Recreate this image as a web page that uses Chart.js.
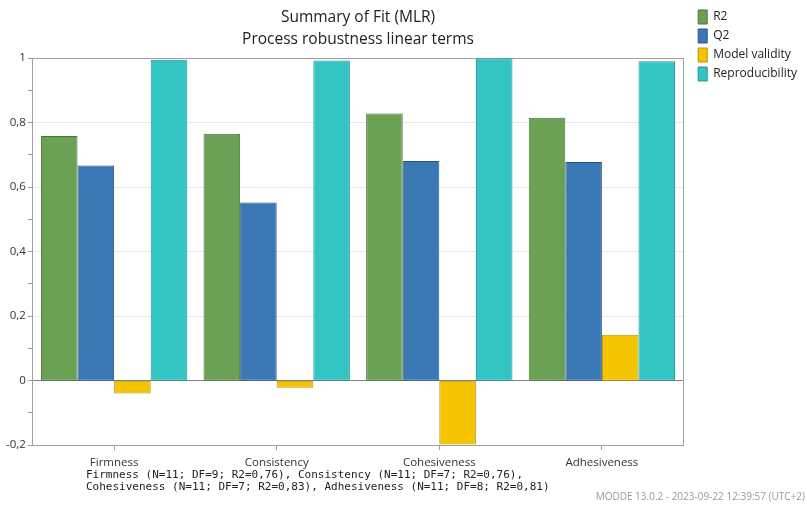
<!DOCTYPE html>
<html>
<head>
<meta charset="utf-8">
<script src="https://cdn.jsdelivr.net/npm/chart.js@4"></script>
<style>
  html, body { margin: 0; padding: 0; background: #fff; }
  #wrap { width: 807px; height: 507px; }
</style>
</head>
<body>
<div id="wrap"><canvas id="fitChart" width="807" height="507"></canvas></div>
<script>
const categories = ["Firmness", "Consistency", "Cohesiveness", "Adhesiveness"];
const r2 = [0.758, 0.765, 0.828, 0.815];
const q2 = [0.667, 0.552, 0.681, 0.678];
const modelValidity = [-0.04, -0.022, -0.198, 0.142];
const reproducibility = [0.995, 0.992, 0.999, 0.99];
const yTicks = [-0.2, 0, 0.2, 0.4, 0.6, 0.8, 1];
const footLines = [
  "Firmness (N=11; DF=9; R2=0,76), Consistency (N=11; DF=7; R2=0,76),",
  "Cohesiveness (N=11; DF=7; R2=0,83), Adhesiveness (N=11; DF=8; R2=0,81)"
];
const stamp = "MODDE 13.0.2 - 2023-09-22 12:39:57 (UTC+2)";

const uiFont = "'Open Sans', 'Noto Sans', sans-serif";

// footnote text under the plot
const extras = {
  id: "extras",
  afterDraw(chart) {
    const c = chart.ctx;
    c.save();
    c.fillStyle = "#222";
    c.font = "11px 'DejaVu Sans Mono', monospace";
    c.textBaseline = "middle";
    c.fillText(footLines[0], 86, 475);
    c.fillText(footLines[1], 86, 487);
    c.fillStyle = "#9a9a9a";
    c.font = "10px " + uiFont;
    c.textAlign = "right";
    c.fillText(stamp, 805, 497);
    c.restore();
  }
};

const ds = (label, data, bg, bd) => ({ label, data, backgroundColor: bg, borderColor: bd, borderWidth: 1, borderSkipped: false });

const ctx = document.getElementById("fitChart").getContext("2d");
new Chart(ctx, {
  type: "bar",
  data: {
    labels: categories,
    datasets: [
      ds("R2", r2, "#6ba155", "#4a7438"),
      ds("Q2", q2, "#3a77b5", "#285684"),
      ds("Model validity", modelValidity, "#f5c400", "#b89300"),
      ds("Reproducibility", reproducibility, "#33c4c4", "#229595")
    ]
  },
  options: {
    responsive: false,
    animation: false,
    categoryPercentage: 0.9,
    barPercentage: 1,
    layout: { padding: { left: 4, bottom: 31, right: 0, top: 5 } },
    plugins: {
      title: {
        display: true,
        text: ["Summary of Fit (MLR)", "Process robustness linear terms"],
        fullSize: false,
        color: "#222",
        font: { family: uiFont, size: 15.5, weight: "normal", lineHeight: 1.42 },
        padding: { top: 2, bottom: 7 }
      },
      legend: {
        position: "right",
        align: "start",
        labels: {
          color: "#222",
          boxWidth: 9,
          boxHeight: 14,
          padding: 5,
          font: { family: uiFont, size: 12 }
        }
      },
      tooltip: { enabled: false }
    },
    scales: {
      x: {
        grid: { offset: false, drawOnChartArea: false, tickLength: 5, color: "#a0a0a0" },
        border: { color: "#a0a0a0" },
        ticks: { color: "#333", font: { family: uiFont, size: 11.5 }, padding: 6 }
      },
      y: {
        min: -0.2,
        max: 1,
        ticks: {
          stepSize: 0.1,
          autoSkip: false,
          color: "#333",
          padding: 2,
          font: { family: uiFont, size: 11.5 },
          callback: v => {
            const t = yTicks.find(y => Math.abs(y - v) < 1e-6);
            return t === undefined ? "" : String(t).replace(".", ",");
          }
        },
        grid: {
          tickLength: 5,
          tickColor: "#a0a0a0",
          color: c => {
            const v = c.tick.value;
            if (Math.abs(v) < 1e-6) return "#808080";
            if (Math.abs(v - 1) < 1e-6) return "#a0a0a0";
            return yTicks.some(y => Math.abs(y - v) < 1e-6) ? "#e6e6e6" : "rgba(0,0,0,0)";
          }
        },
        border: { color: "#a0a0a0" }
      },
      // empty right axis: gives the plot its right frame line and the gap to the legend
      yRight: {
        position: "right",
        min: -0.2,
        max: 1,
        ticks: { display: false },
        grid: { drawOnChartArea: false, drawTicks: false },
        border: { color: "#a0a0a0" },
        afterFit: s => { s.width = 10; }
      }
    }
  },
  plugins: [extras]
});
</script>
</body>
</html>
